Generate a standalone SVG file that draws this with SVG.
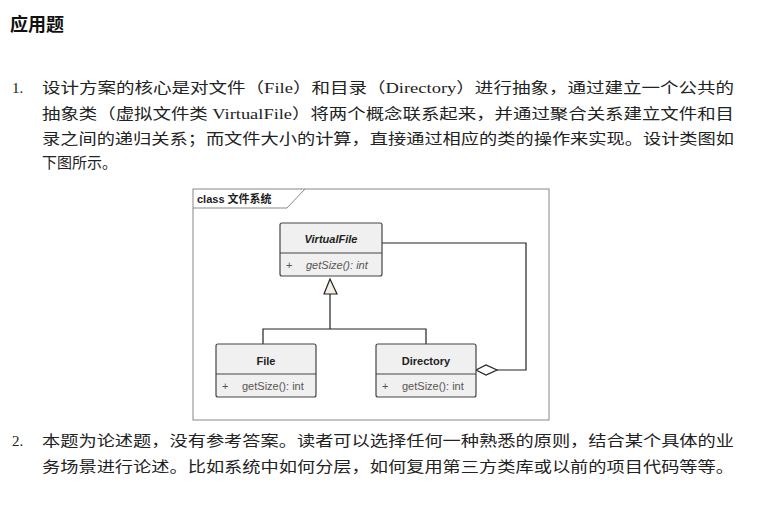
<svg xmlns="http://www.w3.org/2000/svg" width="767" height="510" viewBox="0 0 767 510">
<style>
.t{font-family:"Liberation Serif","Noto Sans CJK SC",serif;font-size:15px;fill:#222}
.b{fill:#f0f0f0;stroke:#444;stroke-width:1.2}
.d{stroke:#444;stroke-width:1}
.n{font-family:"Liberation Sans","Noto Sans CJK SC",sans-serif;font-size:11px;fill:#222}
.m{font-family:"Liberation Sans",sans-serif;font-size:11px;fill:#555}
.c{fill:none;stroke:#222;stroke-width:1.2}
</style>
<rect width="767" height="510" fill="#fff"/>
<text x="10" y="31" font-family="Noto Sans CJK SC,sans-serif" font-size="18" font-weight="bold" fill="#111">应用题</text>
<text class="t" x="12" y="93">1.</text>
<text class="t" x="42" y="93" textLength="692" lengthAdjust="spacingAndGlyphs">设计方案的核心是对文件（File）和目录（Directory）进行抽象，通过建立一个公共的</text>
<text class="t" x="42" y="119" textLength="692" lengthAdjust="spacingAndGlyphs">抽象类（虚拟文件类 VirtualFile）将两个概念联系起来，并通过聚合关系建立文件和目</text>
<text class="t" x="42" y="144" textLength="692" lengthAdjust="spacingAndGlyphs">录之间的递归关系；而文件大小的计算，直接通过相应的类的操作来实现。设计类图如</text>
<text class="t" x="42" y="168">下图所示。</text>
<text class="t" x="12" y="446">2.</text>
<text class="t" x="42" y="446" textLength="692" lengthAdjust="spacingAndGlyphs">本题为论述题，没有参考答案。读者可以选择任何一种熟悉的原则，结合某个具体的业</text>
<text class="t" x="42" y="472" textLength="692" lengthAdjust="spacingAndGlyphs">务场景进行论述。比如系统中如何分层，如何复用第三方类库或以前的项目代码等等。</text>
<g id="frame">
<rect x="193" y="189" width="356" height="231" fill="#fff" stroke="#888"/>
<path d="M193 208 H287 L305 189" fill="none" stroke="#888"/>
<text x="197" y="203" font-family="Liberation Sans,Noto Sans CJK SC,sans-serif" font-size="11" font-weight="bold" fill="#222">class 文件系统</text>
</g>
<g id="connectors">
<path class="c" d="M330 294 V329 M263 344 V329 H426 V344"/>
<path d="M330 279 L324 294 H337 Z" fill="#f7efe4" stroke="#222" stroke-width="1.2"/>
<path class="c" d="M382 243 H526 V370 H497"/>
<path d="M476 370 L486 365 L497 370 L486 375 Z" fill="#fff" stroke="#222" stroke-width="1.2"/>
</g>
<g id="VirtualFile">
<rect class="b" x="280" y="223" width="102" height="53" rx="2"/>
<line class="d" x1="280" y1="253" x2="382" y2="253"/>
<text class="n" x="331" y="243" text-anchor="middle" font-style="italic" font-weight="bold">VirtualFile</text>
<text class="m" x="286" y="269">+</text>
<text class="m" x="306" y="269" font-style="italic" fill="#888">getSize(): int</text>
</g>
<g id="File">
<rect class="b" x="216" y="344" width="100" height="53" rx="2"/>
<line class="d" x1="216" y1="374" x2="316" y2="374"/>
<text class="n" x="266" y="365" text-anchor="middle" font-weight="bold">File</text>
<text class="m" x="222" y="390">+</text>
<text class="m" x="242" y="390">getSize(): int</text>
</g>
<g id="Directory">
<rect class="b" x="376" y="344" width="100" height="53" rx="2"/>
<line class="d" x1="376" y1="374" x2="476" y2="374"/>
<text class="n" x="426" y="365" text-anchor="middle" font-weight="bold">Directory</text>
<text class="m" x="382" y="390">+</text>
<text class="m" x="402" y="390">getSize(): int</text>
</g>
</svg>
